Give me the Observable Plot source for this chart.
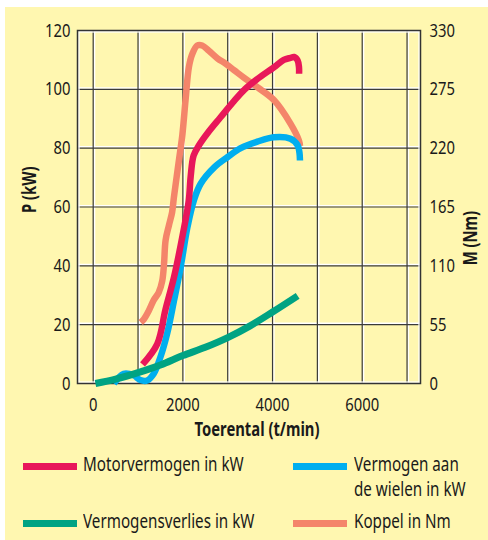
<!DOCTYPE html>
<html>
<head>
<meta charset="utf-8">
<script src="https://cdn.jsdelivr.net/npm/d3@7"></script>
<script src="https://cdn.jsdelivr.net/npm/@observablehq/plot@0.6"></script>
<style>
  html, body { margin: 0; padding: 0; background: #ffffff; }
  body { width: 488px; height: 540px; position: relative; overflow: hidden;
         font-family: "Noto Sans", "DejaVu Sans", sans-serif; }
  #panel { position: absolute; left: 5px; top: 7px; width: 483px; height: 533px; background: #fff7b0; }
  #chart { position: absolute; left: 0; top: 0; }
  .sw { position: absolute; height: 7px; width: 54px; }
  .lt { position: absolute; font-size: 19px; color: #1a1a1a; line-height: 25px; white-space: nowrap;
        transform: scaleX(0.8); transform-origin: 0 0; }
</style>
</head>
<body>
<div id="panel">
  <div id="chart"></div>
</div>
<script>
// ---- data ----
const rpmTicks = [0, 2000, 4000, 6000];
const kwTicks = [0, 20, 40, 60, 80, 100, 120];
const nmTickLabels = ["0", "55", "110", "165", "220", "275", "330"];
const gridRpm = [0, 1000, 2000, 3000, 4000, 5000, 6000, 7000];
const gridKw = [20, 40, 60, 80, 100];

// Motorvermogen in kW
const motorRpm = [1100, 1430, 1610, 1800, 1990, 2130, 2175, 2240, 2360, 2545, 2840, 3140, 3380, 3660, 4030, 4250, 4400, 4480, 4560, 4590, 4592];
const motorKw  = [6.5, 13.5, 25, 36, 50, 62, 70.5, 77.5, 81, 85, 90.5, 96, 100, 103.5, 107.5, 110, 110.7, 111, 109.8, 107.5, 105.3];

// Vermogen aan de wielen in kW
const wielRpm = [460, 680, 900, 1050, 1200, 1350, 1500, 1650, 1800, 1950, 2100, 2250, 2400, 2700, 3000, 3290, 3660, 4030, 4400, 4560, 4600, 4612];
const wielKw  = [0, 3.3, 2.8, 1.2, 1.0, 3.3, 9, 17, 28, 39.5, 53, 62.5, 68, 73.5, 77, 80, 82.2, 83.7, 83.2, 81, 78.5, 75.8];

// Vermogensverlies in kW
const verliesRpm = [50, 500, 1000, 1500, 2000, 2500, 3000, 3500, 4000, 4560];
const verliesKw  = [0, 1.5, 3.7, 6.3, 9.5, 12.3, 15.6, 19.6, 24.3, 29.8];

// Koppel in Nm
const koppelRpm = [1060, 1130, 1240, 1350, 1460, 1540, 1580, 1615, 1690, 1760, 1800, 1910, 1990, 2060, 2135, 2210, 2320, 2430, 2580, 2770, 2950, 3140, 3360, 3660, 4030, 4400, 4590, 4612];
const koppelNm  = [57, 60, 68, 78, 85, 96, 112, 134, 148, 160, 174, 208, 233, 265, 296, 308, 316, 316, 311, 304, 299, 293, 286, 277, 265, 243, 227, 222];

const nmPerKw = 330 / 120; // right axis 0..330 Nm aligned with left axis 0..120 kW

const colors = { motor: "#e8175a", wiel: "#00aeef", verlies: "#00a383", koppel: "#f4856a" };

const toRows = (xs, ys) => xs.map((x, i) => ({ rpm: x, v: ys[i] }));
const motor = toRows(motorRpm, motorKw);
const wiel = toRows(wielRpm, wielKw);
const verlies = toRows(verliesRpm, verliesKw);
const koppel = toRows(koppelRpm, koppelNm);

const lineOpts = (stroke, w) => ({ x: "rpm", y: "v", stroke, strokeWidth: w, curve: "catmull-rom", strokeLinecap: "butt", strokeLinejoin: "round" });

const font = '"Noto Sans", "DejaVu Sans", sans-serif';
const ink = "#1a1a1a";
const gridInk = "#3a3a3a";

const chart = Plot.plot({
  width: 483,
  height: 440,
  marginLeft: 72,
  marginRight: 68,
  marginTop: 23,
  marginBottom: 64,
  style: { background: "transparent", fontFamily: font, fontSize: "19px", color: ink, overflow: "visible" },
  x: { domain: [-350, 7300] },
  y: { domain: [0, 120] },
  marks: [
    // grid: white highlight + dark line
    Plot.ruleX(gridRpm, { stroke: "#ffffff", strokeWidth: 1.4, dx: 1.4 }),
    Plot.ruleY(gridKw, { stroke: "#ffffff", strokeWidth: 1.4, dy: -1.4 }),
    Plot.ruleX(gridRpm, { stroke: gridInk, strokeWidth: 1.2 }),
    Plot.ruleY(gridKw, { stroke: gridInk, strokeWidth: 1.2 }),
    Plot.frame({ stroke: "#ffffff", strokeWidth: 1.4, inset: 1.4 }),
    Plot.frame({ stroke: "#333333", strokeWidth: 1.5 }),
    // curves
    Plot.line(koppel, { ...lineOpts(colors.koppel, 6.5), y: d => d.v / nmPerKw }),
    Plot.line(wiel, lineOpts(colors.wiel, 6.5)),
    Plot.line(motor, lineOpts(colors.motor, 6.5)),
    Plot.line(verlies, lineOpts(colors.verlies, 7)),
    // axes
    Plot.axisX({ ticks: rpmTicks, tickFormat: d => String(d), tickSize: 0, tickPadding: 14, label: null, fill: ink, fontSize: 19 }),
    Plot.axisY({ anchor: "left", ticks: kwTicks, tickFormat: d => String(d), tickSize: 0, tickPadding: 7, label: null, fill: ink, fontSize: 19 }),
    Plot.axisY({ anchor: "right", ticks: kwTicks, tickFormat: (d) => nmTickLabels[kwTicks.indexOf(d)], tickSize: 0, tickPadding: 9, label: null, fill: ink, fontSize: 19 }),
    // axis titles
    Plot.text(["P (kW)"], { frameAnchor: "left", dx: -48, dy: 6, rotate: -90, fontWeight: "bold", fontSize: 19, fill: ink }),
    Plot.text(["M (Nm)"], { frameAnchor: "right", dx: 50, dy: 4, rotate: -90, fontWeight: "bold", fontSize: 19, fill: ink }),
    Plot.text(["Toerental (t/min)"], { frameAnchor: "bottom", dx: 8, dy: 52, fontWeight: "bold", fontSize: 19, fill: ink })
  ]
});

// condense all SVG text horizontally (reference uses a condensed typeface)
const squeeze = 0.78;
d3.select(chart).selectAll("text").each(function () {
  const x = +(this.getAttribute("x") || 0);
  const t = this.getAttribute("transform") || "";
  this.setAttribute("transform", `${t} translate(${x},0) scale(${squeeze},1) translate(${-x},0)`);
});
document.getElementById("chart").appendChild(chart);

// legend (HTML, positioned in panel coordinates)
const legend = [
  { color: colors.motor, label: "Motorvermogen in kW", sx: 18, sy: 456, tx: 78, ty: 445 },
  { color: colors.wiel, label: "Vermogen aan<br>de wielen in kW", sx: 288, sy: 456, tx: 349, ty: 445 },
  { color: colors.verlies, label: "Vermogensverlies in kW", sx: 18, sy: 513, tx: 78, ty: 502 },
  { color: colors.koppel, label: "Koppel in Nm", sx: 288, sy: 513, tx: 349, ty: 502 }
];
const panel = document.getElementById("panel");
for (const l of legend) {
  const s = document.createElement("div");
  s.className = "sw";
  s.style.left = l.sx + "px"; s.style.top = l.sy + "px"; s.style.background = l.color;
  panel.appendChild(s);
  const t = document.createElement("div");
  t.className = "lt";
  t.style.left = l.tx + "px"; t.style.top = l.ty + "px";
  t.innerHTML = l.label;
  panel.appendChild(t);
}
</script>
</body>
</html>
